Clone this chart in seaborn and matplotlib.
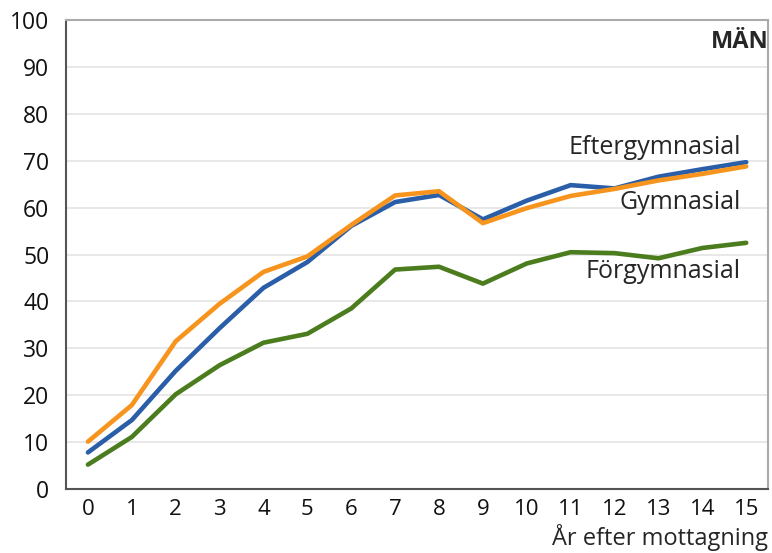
import numpy as np
import pandas as pd
import seaborn as sns
import matplotlib.pyplot as plt
from matplotlib.ticker import MultipleLocator

years = list(range(16))
eftergymnasial = [7.8, 14.7, 25.2, 34.3, 42.9, 48.4, 56.1, 61.2, 62.7, 57.5, 61.5, 64.8, 64.1, 66.6, 68.2, 69.7]
gymnasial = [10.1, 17.9, 31.5, 39.5, 46.3, 49.6, 56.3, 62.6, 63.5, 56.7, 59.9, 62.5, 64.0, 65.8, 67.2, 68.8]
forgymnasial = [5.2, 11.1, 20.2, 26.4, 31.2, 33.1, 38.5, 46.8, 47.4, 43.8, 48.1, 50.5, 50.3, 49.2, 51.4, 52.5]

series = ['Eftergymnasial', 'Gymnasial', 'Förgymnasial']
colors = ['#2b5ea8', '#f7941d', '#4b7d1e']

df = pd.DataFrame({
    'year': years * 3,
    'value': eftergymnasial + gymnasial + forgymnasial,
    'group': [s for s in series for _ in years],
})

sns.set_style('white')
plt.rcParams['font.family'] = ['Open Sans', 'DejaVu Sans']

fig = plt.figure(figsize=(7.72, 5.53), dpi=100)
ax = fig.add_axes([0.0855, 0.1157, 0.9095, 0.848])

sns.lineplot(data=df, x='year', y='value', hue='group', palette=colors,
             linewidth=3.3, legend=False, ax=ax)

ax.set_xlim(-0.5, 15.5)
ax.set_ylim(0, 100)
ax.yaxis.set_major_locator(MultipleLocator(10))
ax.set_xticks(years)
ax.set_xticks(np.arange(-0.5, 15.6, 1), minor=True)
ax.tick_params(axis='x', which='major', length=0, labelsize=16, colors='#111111', pad=7)
ax.tick_params(axis='x', which='minor', direction='in', length=10, width=1, color='#cccccc')
ax.tick_params(axis='y', length=0, labelsize=16.5, colors='#111111', pad=12)
ax.grid(axis='y', color='#e4e4e4', linewidth=1.2)
ax.set_axisbelow(True)

for side in ['left', 'bottom']:
    ax.spines[side].set_color('#555555')
    ax.spines[side].set_linewidth(1.5)
for side in ['top', 'right']:
    ax.spines[side].set_color('#aaaaaa')
    ax.spines[side].set_linewidth(1.5)

ax.set_xlabel('')
ax.set_ylabel('')

# line labels
ax.text(14.88, 72.9, 'Eftergymnasial', ha='right', va='center', fontsize=18)
ax.text(14.88, 61.0, 'Gymnasial', ha='right', va='center', fontsize=18)
ax.text(14.88, 46.3, 'Förgymnasial', ha='right', va='center', fontsize=18)
ax.text(15.5, 95.3, 'MÄN', ha='right', va='center', fontsize=17, fontweight='bold')

fig.text(0.995, 0.004, 'År efter mottagning', ha='right', va='bottom', fontsize=17)

fig.savefig('out.png', dpi=100)
